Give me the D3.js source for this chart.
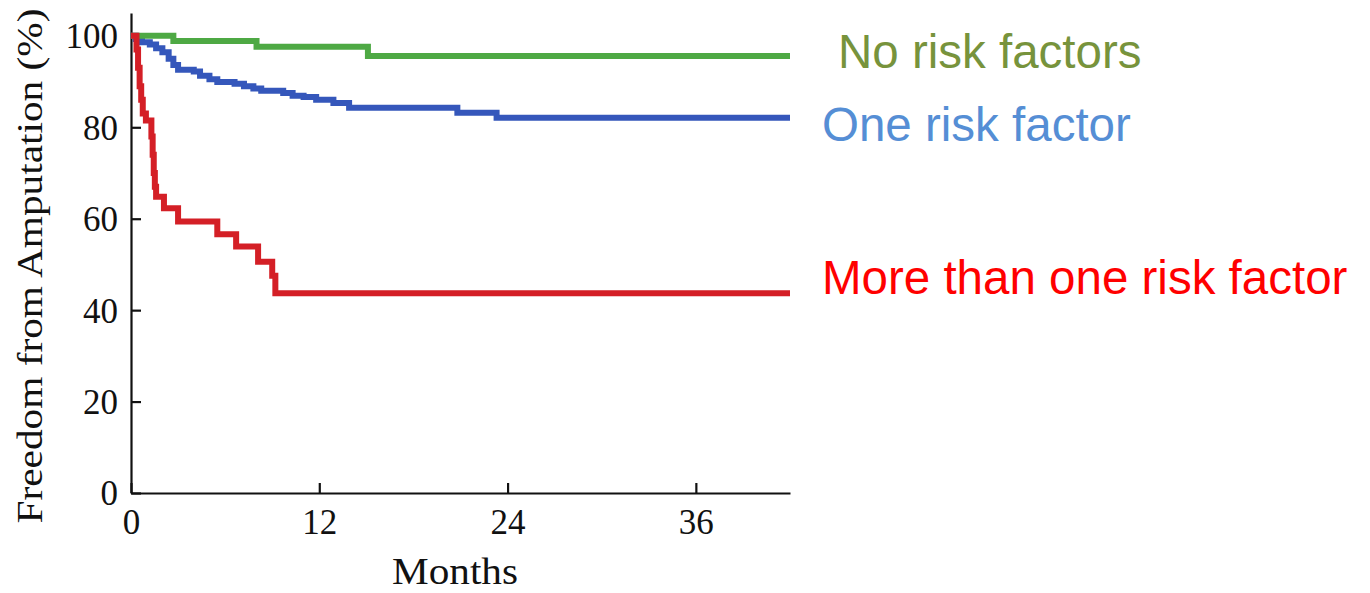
<!DOCTYPE html>
<html>
<head>
<meta charset="utf-8">
<script src="https://cdn.jsdelivr.net/npm/d3@7"></script>
<style>
  html, body { margin: 0; padding: 0; background: #fff; }
  svg { display: block; }
</style>
</head>
<body>
<svg id="chart" width="1370" height="593"></svg>
<script>
// Kaplan-Meier freedom from amputation by number of risk factors
const xTicks = [0, 12, 24, 36];
const yTicks = [0, 20, 40, 60, 80, 100];

const noRiskMonths = [0, 2.7, 8.0, 15.1, 42];
const noRiskValues = [100, 98.9, 97.6, 95.6, 95.6];

const oneRiskMonths = [0, 0.3, 0.7, 1.2, 1.6, 2.0, 2.4, 2.7, 3.0, 4.0, 4.4, 5.0, 5.5, 6.6, 7.2, 7.8, 8.3, 9.7, 10.3, 11.0, 11.8, 12.9, 13.9, 20.8, 23.3, 42];
const oneRiskValues = [100, 99.3, 98.6, 98.1, 97.3, 96.4, 95.0, 93.6, 92.6, 92.2, 91.3, 90.5, 89.9, 89.5, 89.0, 88.5, 88.0, 87.5, 86.9, 86.6, 86.0, 85.3, 84.3, 83.2, 82.1, 82.1];

const multiRiskMonths = [0, 0.35, 0.45, 0.55, 0.65, 0.75, 0.95, 1.3, 1.38, 1.45, 1.52, 1.6, 2.1, 3.0, 5.5, 6.7, 8.1, 9.0, 9.2, 42];
const multiRiskValues = [100, 97, 93, 89, 86, 83, 81.5, 78, 74, 70, 67, 64.8, 62.3, 59.4, 56.6, 53.9, 50.6, 47.5, 43.7, 43.7];

const seriesNames = ["No risk factors", "One risk factor", "More than one risk factor"];
const lineColors = ["#4ea944", "#3557bb", "#d41f26"];
const labelColors = ["#77933c", "#558ed5", "#ff0000"];

const svg = d3.select("#chart");
const x = d3.scaleLinear().domain([0, 42]).range([131, 790]);
const y = d3.scaleLinear().domain([0, 105]).range([493, 13]);

const serif = "'Liberation Serif', 'Times New Roman', serif";
const sans = "'Liberation Sans', Arial, sans-serif";

// axes with inward ticks
const xAxis = svg.append("g")
  .attr("transform", `translate(0,${y(0)})`)
  .call(d3.axisBottom(x).tickValues(xTicks).tickSize(-10).tickPadding(34).tickSizeOuter(0));
const yAxis = svg.append("g")
  .attr("transform", `translate(${x(0)},0)`)
  .call(d3.axisLeft(y).tickValues(yTicks).tickSize(-10).tickPadding(13).tickSizeOuter(0));

[xAxis, yAxis].forEach(g => {
  g.select(".domain").attr("stroke", "#111").attr("stroke-width", 2.2);
  g.selectAll(".tick line").attr("stroke", "#111").attr("stroke-width", 2.2);
  g.selectAll(".tick text")
    .attr("fill", "#111")
    .style("font-family", serif)
    .style("font-size", "35px");
});
xAxis.selectAll(".tick text").attr("dy", "0.2em");
yAxis.selectAll(".tick text").attr("dy", "0.34em");

// axis titles
svg.append("text")
  .attr("x", 455).attr("y", 584)
  .attr("text-anchor", "middle")
  .attr("textLength", 126).attr("lengthAdjust", "spacingAndGlyphs")
  .style("font-family", serif).style("font-size", "37px").attr("fill", "#111")
  .text("Months");

svg.append("text")
  .attr("transform", "translate(42,266) rotate(-90)")
  .attr("text-anchor", "middle")
  .attr("textLength", 515).attr("lengthAdjust", "spacingAndGlyphs")
  .style("font-family", serif).style("font-size", "36px").attr("fill", "#111")
  .text("Freedom from Amputation (%)");

// survival step curves
const series = [
  noRiskMonths.map((m, i) => [m, noRiskValues[i]]),
  oneRiskMonths.map((m, i) => [m, oneRiskValues[i]]),
  multiRiskMonths.map((m, i) => [m, multiRiskValues[i]])
];

const line = d3.line()
  .x(d => x(d[0]))
  .y(d => y(d[1]))
  .curve(d3.curveStepAfter);

[1, 0, 2].forEach(i => {
  svg.append("path")
    .datum(series[i])
    .attr("d", line)
    .attr("fill", "none")
    .attr("stroke", lineColors[i])
    .attr("stroke-width", 6);
});

// series labels
const labelPos = [[838, 68], [822, 141], [822, 294]];
seriesNames.forEach((name, i) => {
  svg.append("text")
    .attr("x", labelPos[i][0]).attr("y", labelPos[i][1])
    .style("font-family", sans).style("font-size", "47.5px")
    .attr("fill", labelColors[i])
    .text(name);
});
</script>
</body>
</html>
